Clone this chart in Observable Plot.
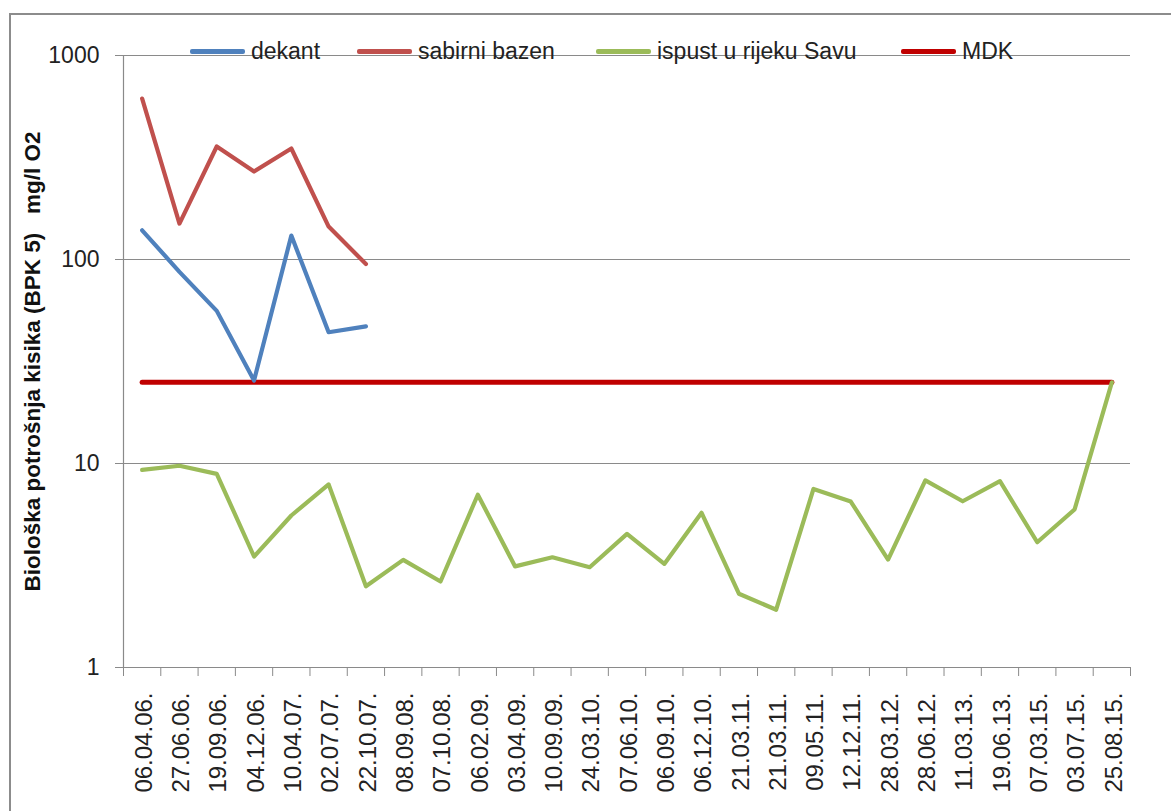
<!DOCTYPE html>
<html>
<head>
<meta charset="utf-8">
<script src="https://cdn.jsdelivr.net/npm/d3@7"></script>
<script src="https://cdn.jsdelivr.net/npm/@observablehq/plot@0.6"></script>
<style>
  body { margin: 0; background: #fff; }
  #wrap { position: relative; width: 1171px; height: 811px; overflow: hidden; background: #fff; font-family: "Liberation Sans", Arial, sans-serif; }
  #wrap svg { position: absolute; left: 0; top: 0; }
  #border { position: absolute; left: 9px; top: 13px; width: 1400px; height: 1000px; border-left: 2px solid #8c8c8c; border-top: 2px solid #8c8c8c; }
  .leg { position: absolute; display: flex; align-items: center; font-size: 23px; color: #222; white-space: nowrap; }
  .leg span.sw { display: inline-block; width: 55px; height: 5px; border-radius: 2px; margin-right: 6px; }
</style>
</head>
<body>
<div id="wrap"><div id="border"></div></div>
<script>
const dates = ["06.04.06.","27.06.06.","19.09.06.","04.12.06.","10.04.07.","02.07.07.","22.10.07.","08.09.08.","07.10.08.","06.02.09.","03.04.09.","10.09.09.","24.03.10.","07.06.10.","06.09.10.","06.12.10.","21.03.11.","21.03.11.","09.05.11.","12.12.11.","28.03.12.","28.06.12.","11.03.13.","19.06.13.","07.03.15.","03.07.15.","25.08.15."];
const dekant = [139, 87, 56, 25.5, 131, 44, 47];
const sabirniBazen = [615, 150, 358, 270, 350, 145, 95];
const ispust = [9.3, 9.75, 8.9, 3.5, 5.56, 7.9, 2.5, 3.37, 2.64, 7.03, 3.13, 3.47, 3.1, 4.52, 3.22, 5.73, 2.3, 1.92, 7.5, 6.51, 3.38, 8.26, 6.53, 8.19, 4.11, 5.95, 25];
const mdk = [25,25,25,25,25,25,25,25,25,25,25,25,25,25,25,25,25,25,25,25,25,25,25,25,25,25,25];
const yTicks = [1, 10, 100, 1000];
const seriesNames = ["dekant", "sabirni bazen", "ispust u rijeku Savu", "MDK"];
const seriesColors = ["#4F81BD", "#C0504D", "#9BBB59", "#C00000"];
const yTitle = "Biološka potrošnja kisika (BPK 5)   mg/l O2";

const toRows = (vals, name) => vals.map((v, i) => ({i, v, name}));
const rows = [
  ...toRows(dekant, seriesNames[0]),
  ...toRows(sabirniBazen, seriesNames[1]),
  ...toRows(ispust, seriesNames[2])
];
const mdkRows = toRows(mdk, seriesNames[3]);

const W = 1171, H = 811, ML = 123, MR = 41, MT = 55, MB = 144;
const idx = dates.map((d, i) => i);
const bw = (W - ML - MR) / dates.length;
const gray = "#8a8a8a";
const font = "Liberation Sans, Arial, sans-serif";

const chart = Plot.plot({
  width: W, height: H,
  marginLeft: ML, marginRight: MR, marginTop: MT, marginBottom: MB,
  style: {fontFamily: font, color: "#222", background: "transparent", overflow: "visible"},
  x: {type: "band", domain: idx, padding: 0, round: false},
  y: {type: "log", domain: [1, 1000]},
  color: {domain: seriesNames, range: seriesColors},
  marks: [
    Plot.gridY(yTicks, {stroke: gray, strokeOpacity: 1, strokeWidth: 1.2}),
    Plot.ruleX([idx[0]], {dx: -bw / 2, stroke: gray, strokeWidth: 1.2}),
    Plot.ruleY([1], {stroke: gray, strokeWidth: 1.2}),
    Plot.axisY({ticks: yTicks, tickFormat: d => String(d), tickSize: 8, tickPadding: 16, fontSize: 23, stroke: gray, label: null}),
    Plot.axisX({ticks: idx, tickSize: 9, text: null, dx: -bw / 2, stroke: gray, label: null}),
    Plot.axisX({ticks: [idx[idx.length - 1]], tickSize: 9, text: null, dx: bw / 2, stroke: gray, label: null}),
    Plot.axisX({ticks: idx, tickFormat: i => dates[i], tickSize: 0, tickPadding: 25, tickRotate: -90, fontSize: 24, dx: 2, label: null}),
    Plot.text([yTitle], {frameAnchor: "left", textAnchor: "middle", rotate: -90, dx: -91, fontSize: 22.5, fontWeight: "bold", fill: "#111"}),
    Plot.line(mdkRows, {x: "i", y: "v", stroke: "name", strokeWidth: 5, strokeLinecap: "round"}),
    Plot.line(rows, {x: "i", y: "v", z: "name", stroke: "name", strokeWidth: 4.2, strokeLinejoin: "round", strokeLinecap: "round"})
  ]
});
const wrap = document.getElementById("wrap");
wrap.insertBefore(chart, wrap.firstChild);

const legendX = [190, 357, 596, 901];
seriesNames.forEach((name, k) => {
  const el = document.createElement("div");
  el.className = "leg";
  el.style.left = legendX[k] + "px";
  el.style.top = "38px";
  el.innerHTML = `<span class="sw" style="background:${seriesColors[k]}"></span>${name}`;
  wrap.appendChild(el);
});
</script>
</body>
</html>
